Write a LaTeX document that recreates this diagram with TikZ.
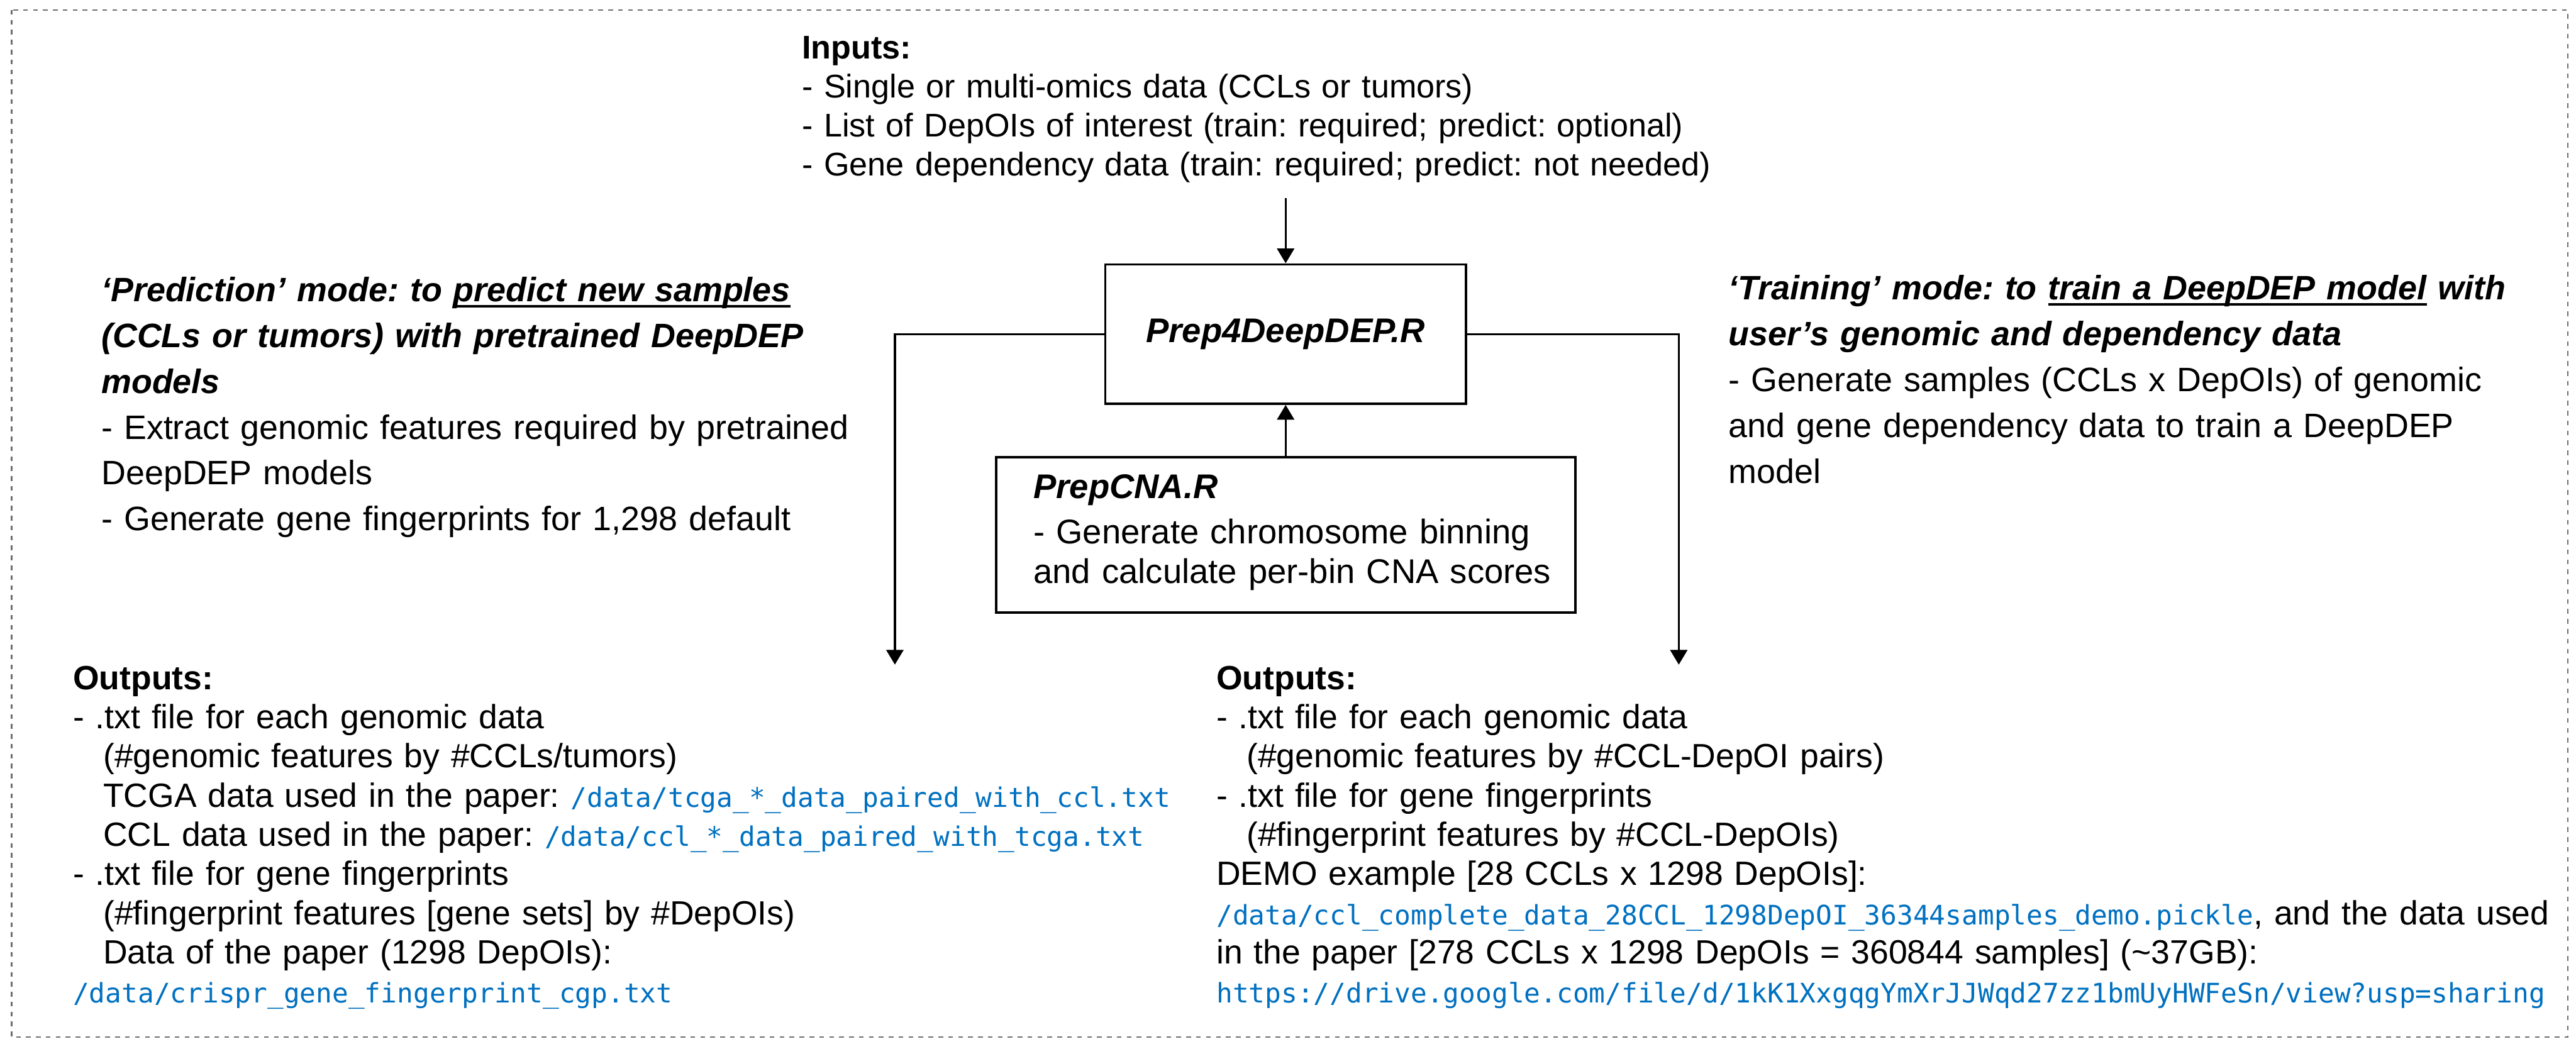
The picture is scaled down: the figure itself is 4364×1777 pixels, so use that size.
\documentclass[tikz,border=0pt]{standalone}
\usepackage{fontspec}
\setmainfont{Liberation Sans}
\setmonofont{DejaVu Sans Mono}
\usetikzlibrary{arrows.meta,positioning,calc}
\usepackage{xcolor}
\definecolor{Ink}{HTML}{000000}
\definecolor{Frame}{HTML}{6E6E72}
\definecolor{PathBlue}{HTML}{0070C0}
\newcommand{\fpath}[1]{{\fontsize{11.4}{13}\selectfont\ttfamily\color{PathBlue}#1}}
\newcommand{\subind}{\hspace*{12.8pt}}
\newcommand{\undl}[1]{\setbox0\hbox{#1}\rlap{\rule[-2.4pt]{\wd0}{0.9pt}}\box0\relax}
\frenchspacing

\begin{document}
\begin{tikzpicture}[x=0.25pt,y=-0.25pt,>={Triangle[length=6.25pt,width=7.25pt]},
  txt/.style={anchor=base west,inner sep=0pt,align=left,text=Ink,font=\fontsize{14.25}{16.6}\selectfont},
  modetxt/.style={anchor=base west,inner sep=0pt,align=left,text=Ink,font=\fontsize{14.35}{19.4}\selectfont},
  progbox/.style={draw=Ink,line width=1pt,inner sep=0pt},
  link/.style={draw=Ink,line width=0.85pt}]
\useasboundingbox (0,0) rectangle (4364,1777);
\draw[Frame,line width=0.7pt,dash pattern=on 2pt off 2.2pt] (20,17) rectangle (4350,1757);
% inputs
\node[txt,text width=420pt,font=\fontsize{13.9}{16.5}\selectfont] (inputs) at (1358,100) {\textbf{Inputs:}\\
- Single or multi-omics data (CCLs or tumors)\\
- List of DepOIs of interest (train: required; predict: optional)\\
- Gene dependency data (train: required; predict: not needed)};
\coordinate (intop) at (2178,336);
% scripts
\node[progbox,minimum width=152.75pt,minimum height=59pt,font=\fontsize{14.5}{17}\selectfont\bfseries\itshape] (prep) at (2178,566) {Prep4DeepDEP.R};
\node[progbox,minimum width=245.25pt,minimum height=65.75pt] (cna) at (2178,906) {};
\node[txt,text width=230pt,font=\fontsize{14.5}{16.75}\selectfont] (cnatxt) at (1750,844) {\textbf{\itshape PrepCNA.R}\\[2.5pt]
- Generate chromosome binning\\
and calculate per-bin CNA scores};
\draw[link,->] (intop) -- (prep);
\draw[link,->] (cna) -- (prep);
% modes
\node[modetxt,text width=340pt] (predict) at (171,511) {\textbf{\itshape `Prediction' mode: to \undl{predict new samples}}\\
\textbf{\itshape (CCLs or tumors) with pretrained DeepDEP}\\
\textbf{\itshape models}\\
- Extract genomic features required by pretrained\\
DeepDEP models\\
- Generate gene fingerprints for 1,298 default};
\node[modetxt,text width=345pt] (train) at (2928,508) {\textbf{\itshape `Training' mode: to \undl{train a DeepDEP model} with}\\
\textbf{\itshape user’s genomic and dependency data}\\
- Generate samples (CCLs x DepOIs) of genomic\\
and gene dependency data to train a DeepDEP\\
model};
\coordinate (predout) at (1516,1126);
\coordinate (trainout) at (2844,1126);
\draw[link,->] (prep.west) -| (predout);
\draw[link,->] (prep.east) -| (trainout);
% outputs
\node[txt,text width=480pt] (outpred) at (123,1168) {\textbf{Outputs:}\\
- .txt file for each genomic data\\
\subind(\#genomic features by \#CCLs/tumors)\\
\subind TCGA data used in the paper: \fpath{/data/tcga\_*\_data\_paired\_with\_ccl.txt}\\
\subind CCL data used in the paper: \fpath{/data/ccl\_*\_data\_paired\_with\_tcga.txt}\\
- .txt file for gene fingerprints\\
\subind(\#fingerprint features [gene sets] by \#DepOIs)\\
\subind Data of the paper (1298 DepOIs):\\
\fpath{/data/crispr\_gene\_fingerprint\_cgp.txt}};
\node[txt,text width=580pt] (outtrain) at (2060,1168) {\textbf{Outputs:}\\
- .txt file for each genomic data\\
\subind(\#genomic features by \#CCL-DepOI pairs)\\
- .txt file for gene fingerprints\\
\subind(\#fingerprint features by \#CCL-DepOIs)\\
DEMO example [28 CCLs x 1298 DepOIs]:\\
\fpath{/data/ccl\_complete\_data\_28CCL\_1298DepOI\_36344samples\_demo.pickle}, and the data used\\
in the paper [278 CCLs x 1298 DepOIs = 360844 samples] (\textasciitilde 37GB):\\
\fpath{https://drive.google.com/file/d/1kK1XxgqgYmXrJJWqd27zz1bmUyHWFeSn/view?usp=sharing}};
\end{tikzpicture}
\end{document}
